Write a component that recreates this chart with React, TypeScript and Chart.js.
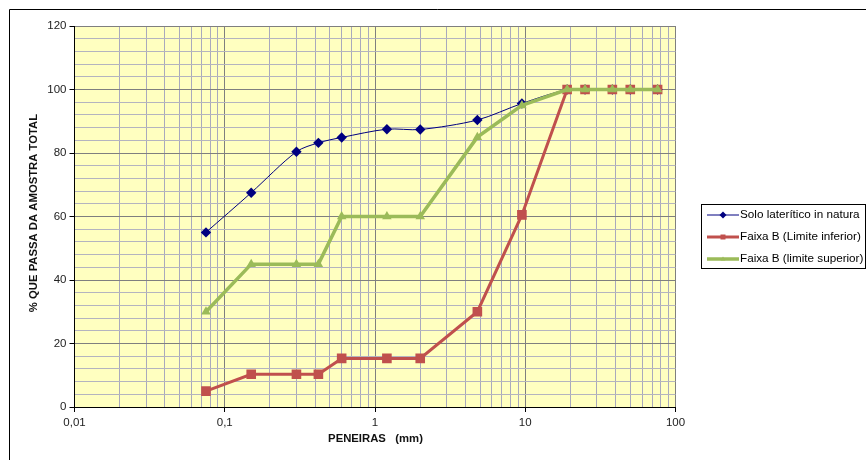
import { useEffect, useRef } from 'react';
import { Chart, registerables } from 'chart.js';

Chart.register(...registerables);

// ---- data ----
const sieveSizes = [0.075, 0.15, 0.3, 0.42, 0.6, 1.2, 2.0, 4.8, 9.5, 19, 25, 38, 50, 76];
const soloValues = [55, 67.5, 80.4, 83.2, 84.9, 87.5, 87.4, 90.4, 95.6, 100, 100, 100, 100, 100];
const limiteInferior = [5, 10.3, 10.3, 10.3, 15.3, 15.3, 15.3, 30, 60.5, 100, 100, 100, 100, 100];
const limiteSuperior = [30, 45, 45, 45, 60, 60, 60, 85, 95, 100, 100, 100, 100, 100];
const seriesLabels = ['Solo laterítico in natura', 'Faixa B (Limite inferior)', 'Faixa B (limite superior)'];
const seriesColors = ['#000080', '#C0504D', '#9BBB59'];
const xDecades = [0.01, 0.1, 1, 10, 100];
const xTickLabels = ['0,01', '0,1', '1', '10', '100'];
const xMinorMultipliers = [2, 3, 4, 5, 6, 7, 8, 9];
const yMajorTicks = [0, 20, 40, 60, 80, 100, 120];
const yMinorStep = 4;
const xTitle = 'PENEIRAS   (mm)';
const yTitle = '% QUE PASSA DA AMOSTRA TOTAL';

const FONT = "'Liberation Sans', Arial, sans-serif";

function buildXTicks() {
  const out: { value: number; major: boolean }[] = [];
  for (let i = 0; i < xDecades.length; i++) {
    out.push({ value: xDecades[i], major: true });
    if (i < xDecades.length - 1) {
      for (const m of xMinorMultipliers) out.push({ value: xDecades[i] * m, major: false });
    }
  }
  return out;
}

function buildYTicks() {
  const out: { value: number; major: boolean }[] = [];
  const max = yMajorTicks[yMajorTicks.length - 1];
  for (let v = 0; v <= max + 0.001; v += yMinorStep) {
    out.push({ value: v, major: yMajorTicks.includes(Math.round(v)) });
  }
  return out;
}

function isDecade(v: number) {
  return xDecades.some((d) => Math.abs(d - v) / d < 1e-6);
}

function drawMarker(ctx: CanvasRenderingContext2D, style: string, x: number, y: number, r: number, color: string) {
  ctx.save();
  ctx.fillStyle = color;
  ctx.beginPath();
  if (style === 'rectRot') {
    ctx.moveTo(x, y - r);
    ctx.lineTo(x + r, y);
    ctx.lineTo(x, y + r);
    ctx.lineTo(x - r, y);
  } else if (style === 'rect') {
    ctx.rect(x - r, y - r, 2 * r, 2 * r);
  } else {
    ctx.moveTo(x, y - r);
    ctx.lineTo(x + r * 0.95, y + r * 0.6);
    ctx.lineTo(x - r * 0.95, y + r * 0.6);
  }
  ctx.closePath();
  ctx.fill();
  ctx.restore();
}

const decorPlugin = {
  id: 'decor',
  beforeDraw(chart: any) {
    const { ctx, chartArea } = chart;
    ctx.save();
    ctx.fillStyle = '#ffffff';
    ctx.fillRect(0, 0, chart.width, chart.height);
    ctx.fillStyle = '#FFFFC0';
    ctx.fillRect(chartArea.left, chartArea.top, chartArea.right - chartArea.left, chartArea.bottom - chartArea.top);
    ctx.restore();
  },
  afterDraw(chart: any) {
    const { ctx } = chart;
    ctx.save();
    // outer frame (left and top visible)
    ctx.strokeStyle = '#000';
    ctx.lineWidth = 1;
    ctx.beginPath();
    ctx.moveTo(9.5, 460);
    ctx.lineTo(9.5, 9.5);
    ctx.lineTo(866, 9.5);
    ctx.stroke();

    // axis titles
    ctx.fillStyle = '#111';
    ctx.font = `bold 11.3px ${FONT}`;
    ctx.textAlign = 'center';
    ctx.textBaseline = 'middle';
    ctx.fillText(xTitle, 375.5, 439);
    ctx.save();
    ctx.translate(34, 213);
    ctx.rotate(-Math.PI / 2);
    ctx.fillText(yTitle, 0, 0);
    ctx.restore();

    // legend
    const lx = 701.5, ly = 204.5, lw = 164, lh = 64;
    ctx.strokeStyle = '#000';
    ctx.lineWidth = 1;
    ctx.strokeRect(lx, ly, lw, lh);
    const rows = [215, 237, 259];
    const widths = [1, 3, 3.5];
    const styles = ['rectRot', 'rect', 'triangle'];
    const sizes = [3.5, 2.5, 2.5];
    ctx.font = `11.7px ${FONT}`;
    ctx.textAlign = 'left';
    for (let i = 0; i < 3; i++) {
      const y = rows[i];
      ctx.strokeStyle = seriesColors[i];
      ctx.lineWidth = widths[i];
      ctx.beginPath();
      ctx.moveTo(707, y);
      ctx.lineTo(739, y);
      ctx.stroke();
      drawMarker(ctx, styles[i], 723, y, sizes[i], seriesColors[i]);
      ctx.fillStyle = '#000';
      ctx.fillText(seriesLabels[i], 740, y);
    }
    ctx.restore();
  },
};

export default function App() {
  const ref = useRef<HTMLCanvasElement | null>(null);

  useEffect(() => {
    if (!ref.current) return;
    const xTicks = buildXTicks();
    const yTicks = buildYTicks();
    const chart = new Chart(ref.current, {
      type: 'line',
      data: {
        datasets: [
          {
            label: seriesLabels[0],
            data: sieveSizes.map((x, i) => ({ x, y: soloValues[i] })),
            borderColor: seriesColors[0],
            backgroundColor: seriesColors[0],
            borderWidth: 1,
            pointStyle: 'rectRot',
            pointRadius: 5.2,
            pointBorderWidth: 0,
            tension: 0.3,
            order: 3,
          },
          {
            label: seriesLabels[1],
            data: sieveSizes.map((x, i) => ({ x, y: limiteInferior[i] })),
            borderColor: seriesColors[1],
            backgroundColor: seriesColors[1],
            borderWidth: 3,
            pointStyle: 'rect',
            pointRadius: 6.8,
            pointBorderWidth: 0,
            tension: 0,
            order: 2,
          },
          {
            label: seriesLabels[2],
            data: sieveSizes.map((x, i) => ({ x, y: limiteSuperior[i] })),
            borderColor: seriesColors[2],
            backgroundColor: seriesColors[2],
            borderWidth: 3.5,
            pointStyle: 'triangle',
            pointRadius: 5.5,
            pointBorderWidth: 0,
            tension: 0,
            order: 1,
          },
        ],
      },
      options: {
        responsive: false,
        animation: false,
        events: [],
        layout: { padding: { left: 0, top: 26, right: 190.5, bottom: 0 } },
        plugins: {
          legend: { display: false },
          tooltip: { enabled: false },
          title: { display: false },
        },
        scales: {
          x: {
            type: 'logarithmic',
            min: 0.01,
            max: 100,
            afterBuildTicks: (s: any) => {
              s.ticks = xTicks.map((t) => ({ value: t.value, major: t.major }));
            },
            afterFit: (s: any) => {
              s.height = 53;
            },
            border: { display: true, color: '#000', width: 1 },
            grid: {
              color: (c: any) => (c.tick && isDecade(c.tick.value) ? '#7f7f7f' : '#a9a9bd'),
              tickColor: (c: any) => (c.tick && isDecade(c.tick.value) ? '#000' : 'rgba(0,0,0,0)'),
              tickLength: 5,
              lineWidth: 1,
            },
            ticks: {
              autoSkip: false,
              maxRotation: 0,
              minRotation: 0,
              padding: 4,
              color: '#222',
              font: { family: FONT, size: 11.5 },
              callback: (v: any) => {
                const idx = xDecades.findIndex((d) => Math.abs(d - Number(v)) / d < 1e-6);
                return idx >= 0 ? xTickLabels[idx] : '';
              },
            },
          },
          y: {
            type: 'linear',
            min: 0,
            max: 120,
            afterBuildTicks: (s: any) => {
              s.ticks = yTicks.map((t) => ({ value: t.value, major: t.major }));
            },
            afterFit: (s: any) => {
              s.width = 74.5;
            },
            border: { display: true, color: '#000', width: 1 },
            grid: {
              color: (c: any) => (c.tick && yMajorTicks.includes(Math.round(c.tick.value)) ? '#7f7f7f' : '#b4b4bf'),
              tickColor: (c: any) => (c.tick && yMajorTicks.includes(Math.round(c.tick.value)) ? '#000' : 'rgba(0,0,0,0)'),
              tickLength: 5,
              lineWidth: 1,
            },
            ticks: {
              autoSkip: false,
              padding: 3,
              color: '#222',
              font: { family: FONT, size: 11.5 },
              callback: (v: any) => (yMajorTicks.includes(Math.round(Number(v))) ? String(Math.round(Number(v))) : ''),
            },
          },
        },
      } as any,
      plugins: [decorPlugin],
    });
    return () => chart.destroy();
  }, []);

  return (
    <div style={{ position: 'absolute', left: 0, top: 0, width: 866, height: 460 }}>
      <canvas ref={ref} width={866} height={460} style={{ display: 'block', width: 866, height: 460 }} />
    </div>
  );
}
